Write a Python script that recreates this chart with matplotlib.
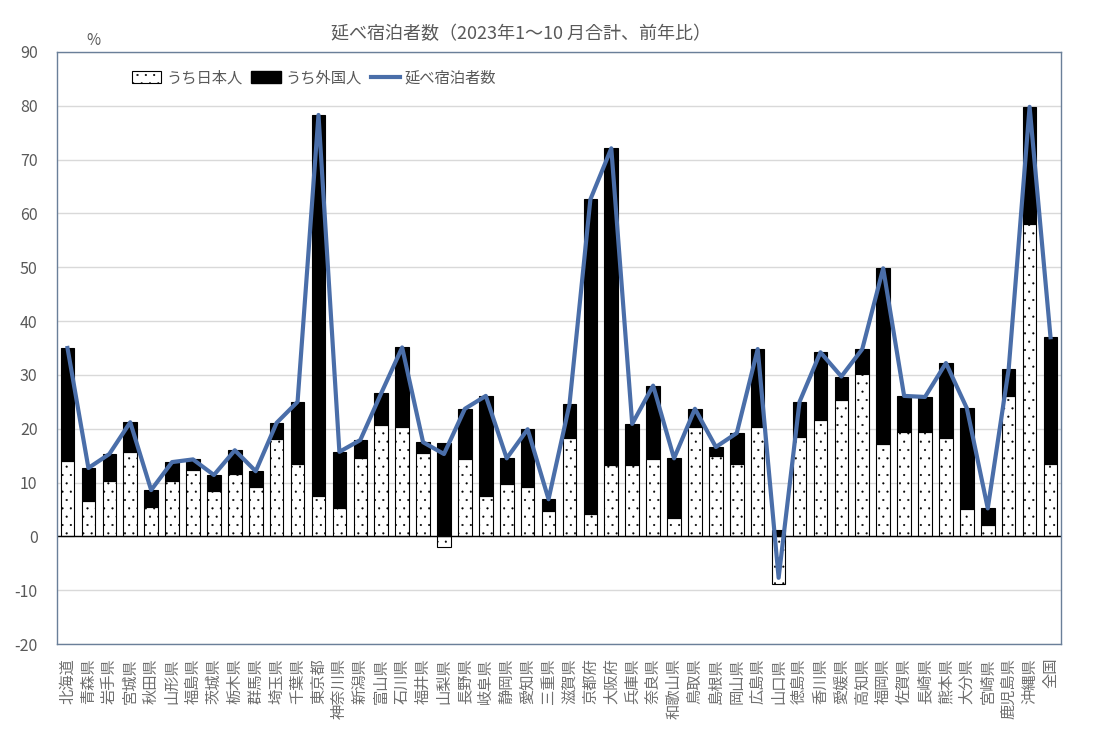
import matplotlib.pyplot as plt
import numpy as np
from matplotlib.patches import Patch
from matplotlib.lines import Line2D

plt.rcParams['font.family'] = ['Noto Sans CJK JP', 'DejaVu Sans']
plt.rcParams['hatch.linewidth'] = 0.3
plt.rcParams['axes.unicode_minus'] = False

prefs = ['北海道', '青森県', '岩手県', '宮城県', '秋田県', '山形県', '福島県', '茨城県',
         '栃木県', '群馬県', '埼玉県', '千葉県', '東京都', '神奈川県', '新潟県', '富山県',
         '石川県', '福井県', '山梨県', '長野県', '岐阜県', '静岡県', '愛知県', '三重県',
         '滋賀県', '京都府', '大阪府', '兵庫県', '奈良県', '和歌山県', '鳥取県', '島根県',
         '岡山県', '広島県', '山口県', '徳島県', '香川県', '愛媛県', '高知県', '福岡県',
         '佐賀県', '長崎県', '熊本県', '大分県', '宮崎県', '鹿児島県', '沖縄県', '全国']

# うち日本人（寄与度）
japanese = [14.0, 6.6, 10.3, 15.7, 5.5, 10.3, 12.3, 8.4,
            11.6, 9.2, 18.0, 13.4, 7.5, 5.3, 14.6, 20.6,
            20.4, 15.5, -2.0, 14.4, 7.5, 9.7, 9.2, 4.7,
            18.3, 4.1, 13.2, 13.2, 14.4, 3.4, 20.4, 14.9,
            13.4, 20.4, -8.8, 18.5, 21.6, 25.3, 30.1, 17.2,
            19.4, 19.4, 18.3, 5.0, 2.2, 26.1, 58.1, 13.4]

# うち外国人（寄与度）
foreign = [21.0, 6.1, 5.0, 5.5, 3.1, 3.5, 2.0, 3.0,
           4.4, 2.9, 3.1, 11.6, 70.8, 10.4, 3.3, 6.0,
           14.7, 2.0, 17.3, 9.3, 18.6, 4.8, 10.7, 2.2,
           6.2, 58.5, 58.9, 7.7, 13.6, 11.1, 3.3, 1.7,
           5.8, 14.4, 1.1, 6.5, 12.6, 4.4, 4.7, 32.6,
           6.7, 6.5, 13.9, 18.8, 3.0, 5.0, 21.7, 23.6]

# 延べ宿泊者数（前年比）
total = [35.0, 12.7, 15.3, 21.2, 8.6, 13.8, 14.3, 11.4,
         16.0, 12.1, 21.1, 25.0, 78.3, 15.7, 17.9, 26.6,
         35.1, 17.5, 15.3, 23.7, 26.1, 14.5, 19.9, 6.9,
         24.5, 62.6, 72.1, 20.9, 28.0, 14.5, 23.7, 16.6,
         19.2, 34.8, -7.7, 25.0, 34.2, 29.7, 34.8, 49.8,
         26.1, 25.9, 32.2, 23.8, 5.2, 31.1, 79.8, 37.0]

line_color = '#4A6EA9'
text_color = '#595959'
frame_color = '#6A7F99'

x = np.arange(len(prefs))
jp = np.array(japanese)
fg = np.array(foreign)

fig = plt.figure(figsize=(11.14, 7.35), dpi=100)
ax = fig.add_axes([0.0512, 0.1238, 0.9012, 0.8055])

ax.bar(x, jp, width=0.65, color='white', edgecolor='black', linewidth=0.8,
       hatch='..', zorder=2)
ax.bar(x, fg, width=0.65, bottom=np.where(jp > 0, jp, 0), color='black',
       edgecolor='black', linewidth=0.8, zorder=2)
ax.plot(x, total, color=line_color, linewidth=3.0, zorder=3)

ax.axhline(0, color='black', linewidth=1.0, zorder=2.5)

ax.set_xlim(-0.5, len(prefs) - 0.5)
ax.set_ylim(-20, 90)
ax.set_yticks(np.arange(-20, 91, 10))
ax.yaxis.grid(True, color='#D9D9D9', linewidth=1.0, zorder=0)
ax.set_axisbelow(True)

ax.set_xticks(x)
ax.set_xticklabels(prefs, rotation=90, fontsize=11, color='#6E6E6E')
ax.tick_params(axis='x', length=0, pad=10)
ax.tick_params(axis='y', length=0, pad=14, labelsize=11.5, labelcolor=text_color)

for s in ax.spines.values():
    s.set_color(frame_color)
    s.set_linewidth(1.0)

fig.text(0.468, 0.953, '延べ宿泊者数（2023年1～10 月合計、前年比）', ha='center',
         va='center', fontsize=13, color=text_color)
fig.text(0.084, 0.945, '%', ha='center', va='center', fontsize=11, color=text_color)

handles = [Patch(facecolor='white', edgecolor='black', hatch='..', linewidth=0.8),
           Patch(facecolor='black', edgecolor='black'),
           Line2D([0], [0], color=line_color, linewidth=3.0)]
ax.legend(handles, ['うち日本人', 'うち外国人', '延べ宿泊者数'], loc='center',
          bbox_to_anchor=(0.256, 0.956), ncol=3, frameon=False, fontsize=11,
          handlelength=1.9, handleheight=0.8, handletextpad=0.3, columnspacing=0.6,
          labelcolor=text_color)

fig.savefig('out.png', dpi=100)
